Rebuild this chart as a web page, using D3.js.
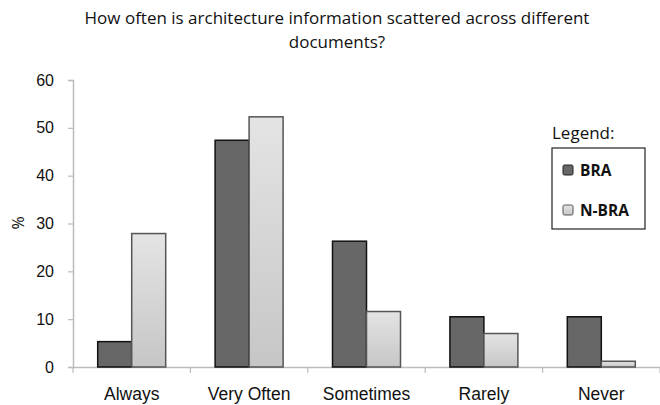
<!DOCTYPE html>
<html>
<head>
<meta charset="utf-8">
<script src="https://cdn.jsdelivr.net/npm/d3@7"></script>
<style>
  body { margin: 0; background: #fff; }
  svg { font-family: "Open Sans", sans-serif; }
</style>
</head>
<body>
<script>
// data
var categories = ["Always", "Very Often", "Sometimes", "Rarely", "Never"],
    seriesNames = ["BRA", "N-BRA"],
    braValues = [5.3, 47.4, 26.3, 10.5, 10.5],
    nbraValues = [27.9, 52.3, 11.6, 7.0, 1.2],
    yTicks = [0, 10, 20, 30, 40, 50, 60];

// setup
var width = 660, height = 405,
    margin = {left: 73, top: 80, right: 0, bottom: 38},
    plotH = height - margin.top - margin.bottom,
    svg = d3.select("body").append("svg").attr("width", width).attr("height", height),
    defs = svg.append("defs");

var grad = defs.append("linearGradient").attr("id", "lightGrad")
    .attr("x1", 0).attr("y1", 0).attr("x2", 0).attr("y2", 1);
grad.append("stop").attr("offset", "0%").attr("stop-color", "#e4e4e4");
grad.append("stop").attr("offset", "100%").attr("stop-color", "#c6c6c6");

var y = d3.scaleLinear().domain([0, 60]).range([plotH, 0]),
    x = d3.scaleBand().domain(categories).range([0, 587]),
    xs = d3.scaleBand().domain(seriesNames).range([0, 68]);

var chartGroup = svg.append("g").attr("transform", "translate(" + margin.left + "," + margin.top + ")");

// axes
var yAxis = chartGroup.append("g").call(d3.axisLeft(y).tickValues(yTicks).tickSize(5).tickPadding(14));
var xAxis = chartGroup.append("g").attr("transform", "translate(0," + plotH + ")")
    .call(d3.axisBottom(x).tickSize(0).tickPadding(21));

[yAxis, xAxis].forEach(function(a){
  a.select(".domain").attr("stroke", "#bcbcbc").attr("stroke-width", 1.5);
  a.selectAll(".tick line").attr("stroke", "#bcbcbc").attr("stroke-width", 1.2);
  a.selectAll("text").attr("fill", "#111");
});
yAxis.selectAll("text").style("font-size", "16px");
xAxis.selectAll("text").style("font-size", "17.5px");

// category boundary ticks
chartGroup.append("g").selectAll("line")
  .data(categories.concat(["end"]))
  .enter().append("line")
    .attr("x1", function(d, i){ return i * x.bandwidth(); })
    .attr("x2", function(d, i){ return i * x.bandwidth(); })
    .attr("y1", plotH).attr("y2", plotH + 6)
    .attr("stroke", "#bcbcbc").attr("stroke-width", 1.2);

// bars
var groups = chartGroup.selectAll(".cat")
  .data(categories)
  .enter().append("g")
    .attr("transform", function(d){ return "translate(" + (x(d) + x.bandwidth() / 2 - 34) + ",0)"; });

groups.append("rect")
    .attr("x", xs("BRA"))
    .attr("width", xs.bandwidth())
    .attr("y", function(d, i){ return y(braValues[i]); })
    .attr("height", function(d, i){ return plotH - y(braValues[i]); })
    .attr("fill", "#676767").attr("stroke", "#111").attr("stroke-width", 1.5);

groups.append("rect")
    .attr("x", xs("N-BRA"))
    .attr("width", xs.bandwidth())
    .attr("y", function(d, i){ return y(nbraValues[i]); })
    .attr("height", function(d, i){ return plotH - y(nbraValues[i]); })
    .attr("fill", "url(#lightGrad)").attr("stroke", "#555").attr("stroke-width", 1.5);

// y label
svg.append("text")
    .attr("transform", "translate(24,223) rotate(-90)")
    .attr("text-anchor", "middle")
    .style("font-size", "16px").attr("fill", "#111")
    .text("%");

// title
var title = svg.append("text").attr("text-anchor", "middle").style("font-size", "17px").attr("fill", "#111");
title.append("tspan").attr("x", 337).attr("y", 24).text("How often is architecture information scattered across different");
title.append("tspan").attr("x", 337).attr("y", 48).text("documents?");

// legend
var legend = svg.append("g").attr("transform", "translate(552,148)");
legend.append("text").attr("x", 0).attr("y", -9).style("font-size", "17px").attr("fill", "#111").text("Legend:");
legend.append("rect").attr("width", 93).attr("height", 81)
    .attr("fill", "#fff").attr("stroke", "#222").attr("stroke-width", 1.2);
var items = legend.selectAll(".item")
  .data(seriesNames)
  .enter().append("g")
    .attr("transform", function(d, i){ return "translate(11," + (17 + i * 40) + ")"; });
items.append("rect").attr("width", 10).attr("height", 10).attr("rx", 1.5)
    .attr("fill", function(d, i){ return i === 0 ? "#676767" : "url(#lightGrad)"; })
    .attr("stroke", function(d, i){ return i === 0 ? "#222" : "#555"; });
items.append("text").attr("x", 17).attr("y", 11)
    .style("font-size", "15.5px").style("font-weight", "bold").attr("fill", "#111")
    .text(function(d){ return d; });
</script>
</body>
</html>
